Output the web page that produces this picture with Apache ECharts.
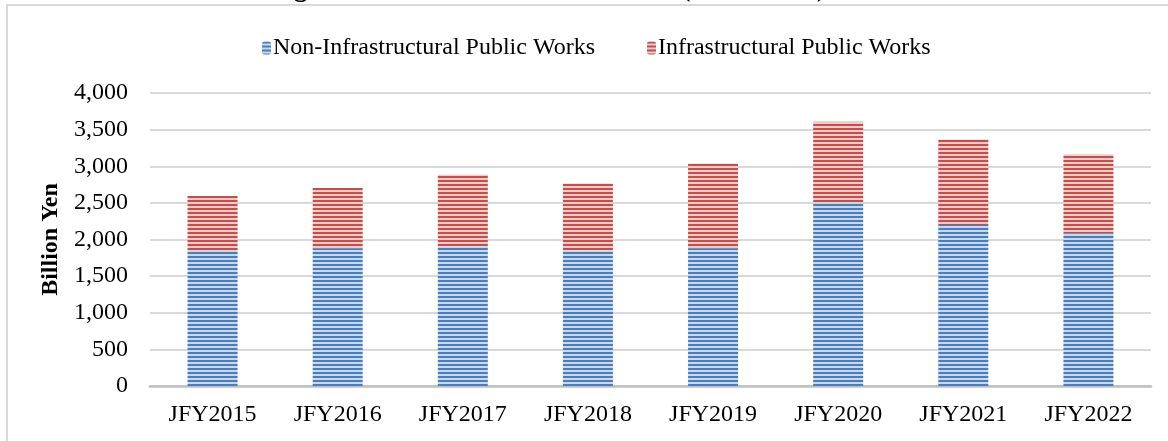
<!DOCTYPE html>
<html>
<head>
<meta charset="utf-8">
<script src="https://cdn.jsdelivr.net/npm/echarts@6/dist/echarts.min.js"></script>
<style>
  html, body { margin: 0; padding: 0; background: #fff; }
  #chart { width: 1168px; height: 441px; }
</style>
</head>
<body>
<div id="chart"></div>
<script>
// data (billion yen)
const categories = ['JFY2015', 'JFY2016', 'JFY2017', 'JFY2018', 'JFY2019', 'JFY2020', 'JFY2021', 'JFY2022'];
const nonInfra = [1843, 1880, 1900, 1846, 1882, 2503, 2198, 2085];
const infra = [751, 823, 983, 919, 1155, 1106, 1166, 1078];
const yTicks = { min: 0, max: 4000, step: 500 };

const FONT = '"Liberation Serif", "Times New Roman", serif';

// horizontal stripe fill, like the excel pattern fill
function stripes(dark, light) {
  const c = document.createElement('canvas');
  c.width = 4;
  c.height = 4;
  const g = c.getContext('2d');
  g.fillStyle = light;
  g.fillRect(0, 0, 4, 4);
  g.fillStyle = dark;
  g.fillRect(0, 0, 4, 2);
  return { image: c, repeat: 'repeat' };
}

const blueFill = stripes('#4a7ebb', '#c9d8ed');
const redFill = stripes('#c0504d', '#efcac9');

const chart = echarts.init(document.getElementById('chart'));

const option = {
  animation: false,
  backgroundColor: '#fff',
  graphic: [
    {
      // frame of the embedded chart, cut at the right and bottom
      type: 'rect',
      silent: true,
      z: -10,
      shape: { x: 7, y: 5, width: 1300, height: 600 },
      style: { fill: 'none', stroke: '#d9d9d9', lineWidth: 2 }
    },
    {
      // figure caption, mostly above the crop
      type: 'text',
      silent: true,
      x: 270,
      y: -11,
      style: {
        text: 'Figure 4: Public Works Investment (Billion Yen)',
        font: 'bold 27px ' + FONT,
        fill: '#000',
        verticalAlign: 'middle'
      }
    }
  ],
  legend: {
    left: 257,
    top: 31,
    itemWidth: 9,
    itemHeight: 13,
    itemGap: 52,
    textStyle: { fontFamily: FONT, fontSize: 24, color: '#000', padding: [0, 0, 0, -3] },
    data: ['Non-Infrastructural Public Works', 'Infrastructural Public Works']
  },
  grid: {
    left: 150,
    right: 17,
    top: 93,
    bottom: 55
  },
  xAxis: {
    type: 'category',
    data: categories,
    axisTick: { show: false },
    axisLine: { lineStyle: { color: '#bfbfbf', width: 2.5 } },
    axisLabel: { color: '#000', fontFamily: FONT, fontSize: 24, margin: 17 }
  },
  yAxis: {
    type: 'value',
    min: yTicks.min,
    max: yTicks.max,
    interval: yTicks.step,
    name: 'Billion Yen',
    nameLocation: 'middle',
    nameGap: 79,
    nameTextStyle: { fontFamily: FONT, fontSize: 24, fontWeight: 'bold', color: '#000' },
    axisLine: { show: false },
    axisTick: { show: false },
    axisLabel: {
      color: '#000',
      fontFamily: FONT,
      fontSize: 24,
      margin: 22,
      formatter: v => v.toLocaleString('en-US')
    },
    splitLine: { lineStyle: { color: '#d9d9d9', width: 2 } }
  },
  series: [
    {
      name: 'Non-Infrastructural Public Works',
      type: 'bar',
      stack: 'total',
      barWidth: 50,
      data: nonInfra,
      itemStyle: { color: blueFill }
    },
    {
      name: 'Infrastructural Public Works',
      type: 'bar',
      stack: 'total',
      barWidth: 50,
      data: infra,
      itemStyle: { color: redFill }
    }
  ]
};

chart.setOption(option);
</script>
</body>
</html>
